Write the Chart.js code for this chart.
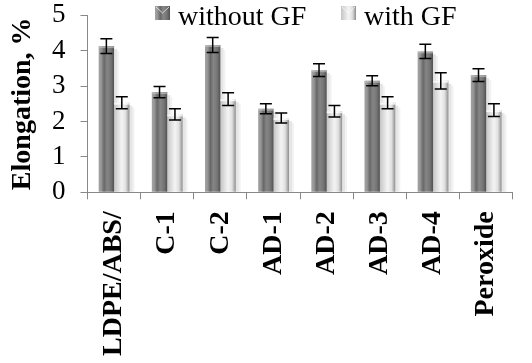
<!DOCTYPE html>
<html>
<head>
<meta charset="utf-8">
<script src="https://cdn.jsdelivr.net/npm/chart.js@4"></script>
<style>
html,body{margin:0;padding:0;background:#fff;}
#wrap{width:532px;height:363px;position:relative;}
</style>
</head>
<body>
<div id="wrap"><canvas id="c" width="532" height="363"></canvas></div>
<script>
const categories = ['LDPE/ABS/', 'C-1', 'C-2', 'AD-1', 'AD-2', 'AD-3', 'AD-4', 'Peroxide'];
const withoutGF = [4.13, 2.83, 4.16, 2.36, 3.45, 3.15, 3.98, 3.31];
const withGF = [2.53, 2.20, 2.63, 2.10, 2.29, 2.53, 3.15, 2.32];
const withoutGFErr = [0.21, 0.16, 0.21, 0.14, 0.18, 0.14, 0.20, 0.18];
const withGFErr = [0.17, 0.16, 0.18, 0.14, 0.16, 0.17, 0.23, 0.18];
const yTicks = [0, 1, 2, 3, 4, 5];
const seriesNames = ['without GF', 'with GF'];

const darkStops = [[0,'#a4a4a4'],[0.18,'#949494'],[0.35,'#686868'],[0.55,'#868686'],[0.8,'#747474'],[1,'#505050']];
const lightStops = [[0,'#c4c4c4'],[0.2,'#d8d8d8'],[0.5,'#f4f4f4'],[0.75,'#e0e0e0'],[0.9,'#b0b0b0'],[1,'#8a8a8a']];

function makeGrad(ctx, x0, x1, stops){
  const g = ctx.createLinearGradient(x0, 0, x1, 0);
  stops.forEach(s => g.addColorStop(s[0], s[1]));
  return g;
}

const barStyle = {
  id: 'barStyle',
  beforeDatasetsDraw(chart){
    const ctx = chart.ctx;
    chart.data.datasets.forEach((ds, di) => {
      const meta = chart.getDatasetMeta(di);
      const stops = di === 0 ? darkStops : lightStops;
      meta.data.forEach(el => {
        const p = el.getProps(['x','y','base','width'], true);
        const x0 = p.x - p.width/2, x1 = p.x + p.width/2;
        ctx.save();
        ctx.fillStyle = 'rgba(0,0,0,0.10)';
        ctx.fillRect(x1, p.y + 3, 3, p.base - p.y - 3);
        ctx.fillStyle = 'rgba(0,0,0,0.05)';
        ctx.fillRect(x1 + 3, p.y + 5, 2, p.base - p.y - 5);
        ctx.restore();
        el.options = Object.assign({}, el.options, {backgroundColor: makeGrad(ctx, x0, x1, stops)});
      });
    });
  },
  afterDatasetsDraw(chart){
    const ctx = chart.ctx;
    const errs = [withoutGFErr, withGFErr];
    const y = chart.scales.y;
    chart.data.datasets.forEach((ds, di) => {
      const meta = chart.getDatasetMeta(di);
      meta.data.forEach((el, i) => {
        const p = el.getProps(['x','y','width'], true);
        const v = ds.data[i], e = errs[di][i];
        const yt = y.getPixelForValue(v + e), yb = y.getPixelForValue(v - e);
        ctx.save();
        ctx.fillStyle = di === 0 ? 'rgba(200,200,200,0.6)' : 'rgba(255,255,255,0.8)';
        ctx.fillRect(p.x - p.width/2, p.y, p.width, 2);
        ctx.strokeStyle = '#000';
        ctx.lineWidth = 1.5;
        ctx.beginPath();
        ctx.moveTo(p.x, yt); ctx.lineTo(p.x, yb);
        ctx.moveTo(p.x - 6, yt); ctx.lineTo(p.x + 6, yt);
        ctx.moveTo(p.x - 6, yb); ctx.lineTo(p.x + 6, yb);
        ctx.stroke();
        ctx.restore();
      });
    });
  },
  afterDraw(chart){
    const ctx = chart.ctx;
    const items = [[155, darkStops, seriesNames[0]], [341, lightStops, seriesNames[1]]];
    ctx.save();
    items.forEach(it => {
      const bx = it[0], by = 6;
      ctx.fillStyle = makeGrad(ctx, bx, bx + 15, it[1]);
      ctx.fillRect(bx, by, 15, 14);
      ctx.strokeStyle = 'rgba(255,255,255,0.7)';
      ctx.lineWidth = 1;
      ctx.beginPath();
      ctx.moveTo(bx + 1, by + 1); ctx.lineTo(bx + 7.5, by + 7);
      ctx.lineTo(bx + 14, by + 1);
      ctx.stroke();
      ctx.fillStyle = '#000';
      ctx.font = '28px "Liberation Serif"';
      ctx.textBaseline = 'alphabetic';
      ctx.fillText(it[2], bx + 23, 25);
    });
    ctx.restore();
  }
};

new Chart(document.getElementById('c'), {
  type: 'bar',
  data: {
    labels: categories,
    datasets: [
      {label: seriesNames[0], data: withoutGF, backgroundColor: '#888', borderWidth: 0},
      {label: seriesNames[1], data: withGF, backgroundColor: '#ddd', borderWidth: 0}
    ]
  },
  options: {
    responsive: false,
    animation: false,
    events: [],
    layout: {padding: {left: 9, right: 3, top: 0, bottom: 0}},
    datasets: {bar: {categoryPercentage: 0.58, barPercentage: 1.0}},
    plugins: {legend: {display: false}, tooltip: {enabled: false}},
    scales: {
      x: {
        afterFit(scale){ scale.height -= 5; },
        grid: {display: true, drawOnChartArea: false, offset: true, color: '#888', tickLength: 7, tickColor: '#888'},
        border: {color: '#888', width: 1},
        ticks: {color: '#000', minRotation: 90, maxRotation: 90, padding: 12, autoSkip: false,
          font: {family: '"Liberation Serif"', size: 28, weight: 'bold'}}
      },
      y: {
        min: 0, max: 5,
        afterBuildTicks(scale){ scale.ticks = yTicks.map(v => ({value: v})); },
        grid: {display: true, drawOnChartArea: false, color: '#888', tickLength: 7, tickColor: '#888'},
        border: {color: '#888', width: 1},
        ticks: {color: '#000', padding: 15, autoSkip: false, font: {family: '"Liberation Serif"', size: 27, lineHeight: 0.02}},
        title: {display: true, text: 'Elongation, %', color: '#000', padding: {top: 0, bottom: 0},
          font: {family: '"Liberation Serif"', size: 28, weight: 'bold', lineHeight: 1.0}}
      }
    }
  },
  plugins: [barStyle]
});
</script>
</body>
</html>
